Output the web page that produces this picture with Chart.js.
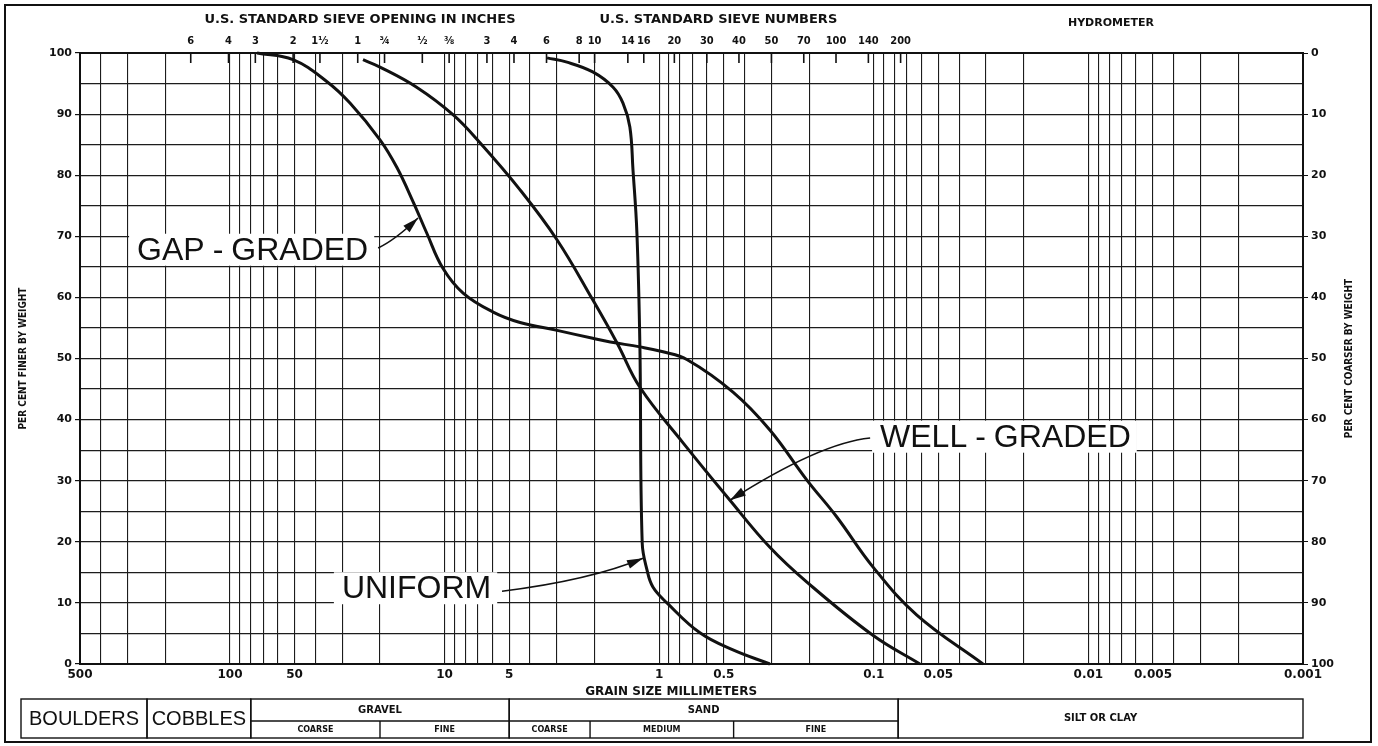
<!DOCTYPE html>
<html>
<head>
<meta charset="utf-8">
<title>Grain size distribution</title>
<script src="https://cdn.jsdelivr.net/npm/chart.js@4.4.1/dist/chart.umd.min.js"></script>
<style>
  html, body { margin: 0; padding: 0; background: #fff; }
  canvas { display: block; }
</style>
</head>
<body>
<canvas id="chart" width="1378" height="746"></canvas>
<script>
// grain size in mm against per cent finer by weight
const gapSizes = [74.8, 50.9, 35.3, 27.6, 20.0, 16.7, 14.0, 12.1, 10.2, 8.2, 5.94, 4.45, 2.99, 2.04, 1.69, 1.23, 0.96, 0.74, 0.453, 0.305, 0.205, 0.149, 0.101, 0.063, 0.031]
const gapFiner = [100, 98.9, 95.3, 91.8, 85.8, 81.3, 75.6, 70.5, 64.8, 60.7, 57.6, 55.9, 54.6, 53.3, 52.7, 51.9, 51.1, 49.8, 44.5, 38.3, 30.1, 24.1, 15.9, 8.0, 0]

const wellSizes = [24.0, 20.0, 13.5, 9.14, 6.84, 4.45, 2.99, 2.04, 1.57, 1.23, 0.774, 0.468, 0.305, 0.205, 0.101, 0.061]
const wellFiner = [98.9, 97.7, 94.4, 89.9, 85.3, 77.6, 69.4, 59.6, 52.5, 45.3, 36.2, 26.8, 19.1, 13.4, 4.7, 0]

const uniformSizes = [3.33, 2.69, 2.04, 1.64, 1.475, 1.37, 1.325, 1.27, 1.23, 1.20, 1.14, 1.07, 0.92, 0.646, 0.453, 0.305]
const uniformFiner = [99.2, 98.5, 96.9, 94.4, 91.8, 87.9, 80.9, 70.5, 51.9, 19.8, 15.4, 12.6, 10.0, 5.1, 2.3, 0]

// axis marks
const sizeTicks = [500, 100, 50, 10, 5, 1, 0.5, 0.1, 0.05, 0.01, 0.005, 0.001]
const sizeTickLabels = ["500", "100", "50", "10", "5", "1", "0.5", "0.1", "0.05", "0.01", "0.005", "0.001"]
const sieveSizes = [152.4, 101.6, 76.2, 50.8, 38.1, 25.4, 19.05, 12.7, 9.525, 6.35, 4.75, 3.35, 2.36, 2.0, 1.4, 1.18, 0.85, 0.6, 0.425, 0.3, 0.212, 0.15, 0.106, 0.075]
const sieveLabels = ["6", "4", "3", "2", "1½", "1", "¾", "½", "⅜", "3", "4", "6", "8", "10", "14", "16", "20", "30", "40", "50", "70", "100", "140", "200"]
const finerTicks = [0, 10, 20, 30, 40, 50, 60, 70, 80, 90, 100]
const coarserTicks = [0, 10, 20, 30, 40, 50, 60, 70, 80, 90, 100]

// soil classes along the bottom strip (boundaries in mm)
const classBounds = [80, 20, 5, 2.1, 0.45, 0.077]

// log grid: every 1..9 step of each decade between 0.001 and 500 mm
const gridSizes = []
for (let k = -3; k <= 2; k++) {
  for (let n = 1; n <= 9; n++) {
    const v = Number((n * Math.pow(10, k)).toPrecision(6))
    if (v <= 500) gridSizes.push(v)
  }
}

const ink = "#111"
const tickFont = { family: "'DejaVu Sans', sans-serif", weight: "bold", size: 11 }
const same = (a, b) => Math.abs(a - b) / b < 1e-6

const callouts = [
  { text: "GAP-GRADED", at: [271, 67.8], tail: [20.4, 68.1], bend: [17.0, 69.4], tip: [13.3, 73.0] },
  { text: "WELL-GRADED", at: [0.0935, 37.2], tail: [0.104, 37.0], bend: [0.178, 36.2], tip: [0.468, 26.8] },
  { text: "UNIFORM", at: [30.1, 12.4], tail: [5.40, 11.9], bend: [2.10, 13.7], tip: [1.19, 17.3] },
]

const toPoints = (sizes, finer) => sizes.map((d, i) => ({ x: d, y: finer[i] }))

function arrow(ctx, x0, y0, cx, cy, x1, y1) {
  ctx.beginPath()
  ctx.moveTo(x0, y0)
  ctx.quadraticCurveTo(cx, cy, x1, y1)
  ctx.stroke()
  const a = Math.atan2(y1 - cy, x1 - cx)
  ctx.beginPath()
  ctx.moveTo(x1, y1)
  ctx.lineTo(x1 - 16 * Math.cos(a) + 4.5 * Math.sin(a), y1 - 16 * Math.sin(a) - 4.5 * Math.cos(a))
  ctx.lineTo(x1 - 16 * Math.cos(a) - 4.5 * Math.sin(a), y1 - 16 * Math.sin(a) + 4.5 * Math.cos(a))
  ctx.closePath()
  ctx.fill()
}

// lettering with the hyphen set apart, as on the sheet
function letter(ctx, text, x, y, draw) {
  const parts = text.split("-")
  const gap = 8
  let w = 0
  parts.forEach((p, i) => {
    if (i > 0) w += gap * 2 + ctx.measureText("-").width
    w += ctx.measureText(p).width
  })
  if (!draw) return w
  let cx = x
  parts.forEach((p, i) => {
    if (i > 0) {
      cx += gap
      ctx.fillText("-", cx, y)
      cx += ctx.measureText("-").width + gap
    }
    ctx.fillText(p, cx, y)
    cx += ctx.measureText(p).width
  })
  return w
}

const sheetPlugin = {
  id: "sheet",
  beforeDatasetsDraw(chart) {
    const { ctx, scales } = chart
    ctx.save()
    ctx.font = "32px 'Liberation Sans', Arial, sans-serif"
    ctx.textBaseline = "middle"
    ctx.textAlign = "left"
    callouts.forEach((c) => {
      const px = scales.x.getPixelForValue(c.at[0])
      const py = scales.y.getPixelForValue(c.at[1])
      const w = letter(ctx, c.text, px, py, false)
      ctx.fillStyle = "#fff"
      ctx.fillRect(px - 8, py - 16, w + 14, 32)
      ctx.fillStyle = ink
      letter(ctx, c.text, px, py + 1, true)
    })
    ctx.restore()
  },
  afterDatasetsDraw(chart) {
    const { ctx, scales } = chart
    const px = (v) => scales.x.getPixelForValue(v)
    const py = (v) => scales.y.getPixelForValue(v)
    ctx.save()
    ctx.strokeStyle = ink
    ctx.fillStyle = ink
    ctx.lineWidth = 1.6
    callouts.forEach((c) => {
      arrow(ctx, px(c.tail[0]), py(c.tail[1]), px(c.bend[0]), py(c.bend[1]), px(c.tip[0]), py(c.tip[1]))
    })
    ctx.restore()
  },
  afterDraw(chart) {
    const { ctx, chartArea: area, scales } = chart
    const x = scales.x, x2 = scales.x2
    ctx.save()
    ctx.strokeStyle = ink
    ctx.fillStyle = ink

    // sieve marks hanging from the top edge
    ctx.lineWidth = 1.6
    sieveSizes.forEach((v) => {
      const p = x2.getPixelForValue(v)
      ctx.beginPath()
      ctx.moveTo(p, area.top)
      ctx.lineTo(p, area.top + 10)
      ctx.stroke()
    })

    // headings
    ctx.textAlign = "center"
    ctx.textBaseline = "middle"
    ctx.font = "bold 13px 'DejaVu Sans', sans-serif"
    ctx.fillText("U.S. STANDARD SIEVE OPENING IN INCHES", x2.getPixelForValue(24.8), 20)
    ctx.fillText("U.S. STANDARD SIEVE NUMBERS", x2.getPixelForValue(0.53), 20)
    ctx.font = "bold 11px 'DejaVu Sans', sans-serif"
    ctx.fillText("HYDROMETER", x2.getPixelForValue(0.00785), 23)
    ctx.font = "bold 12px 'DejaVu Sans', sans-serif"
    ctx.fillText("GRAIN SIZE MILLIMETERS", x.getPixelForValue(0.88), 692)

    const midY = (area.top + area.bottom) / 2
    ctx.font = "bold 10px 'DejaVu Sans Condensed', 'DejaVu Sans', sans-serif"
    ctx.translate(23, midY)
    ctx.rotate(-Math.PI / 2)
    ctx.fillText("PER CENT FINER BY WEIGHT", 0, 0)
    ctx.setTransform(1, 0, 0, 1, 0, 0)
    ctx.translate(1349, midY)
    ctx.rotate(-Math.PI / 2)
    ctx.fillText("PER CENT COARSER BY WEIGHT", 0, 0)
    ctx.setTransform(1, 0, 0, 1, 0, 0)

    // classification strip
    const top = 699, mid = 721, bottom = 738
    const b = classBounds.map((v) => x.getPixelForValue(v))
    const right = area.right
    ctx.lineWidth = 1.4
    const box = (l, r) => ctx.strokeRect(l, top, r - l, bottom - top)
    const hline = (l, r, yy) => { ctx.beginPath(); ctx.moveTo(l, yy); ctx.lineTo(r, yy); ctx.stroke() }
    const vline = (xx, y0, y1) => { ctx.beginPath(); ctx.moveTo(xx, y0); ctx.lineTo(xx, y1); ctx.stroke() }
    box(21, 147)
    box(147, b[0])
    box(b[0], b[2])
    box(b[2], b[5])
    box(b[5], right)
    hline(b[0], b[5], mid)
    vline(b[1], mid, bottom)
    vline(b[3], mid, bottom)
    vline(b[4], mid, bottom)

    ctx.font = "20px 'Liberation Sans', Arial, sans-serif"
    ctx.fillText("BOULDERS", (21 + 147) / 2, (top + bottom) / 2 + 1)
    ctx.fillText("COBBLES", (147 + b[0]) / 2, (top + bottom) / 2 + 1)
    ctx.font = "bold 10px 'DejaVu Sans', sans-serif"
    ctx.fillText("GRAVEL", (b[0] + b[2]) / 2, (top + mid) / 2)
    ctx.fillText("SAND", (b[2] + b[5]) / 2, (top + mid) / 2)
    ctx.fillText("SILT OR CLAY", (b[5] + right) / 2, (top + bottom) / 2)
    ctx.font = "bold 8px 'DejaVu Sans', sans-serif"
    const low = (mid + bottom) / 2
    ctx.fillText("COARSE", (b[0] + b[1]) / 2, low)
    ctx.fillText("FINE", (b[1] + b[2]) / 2, low)
    ctx.fillText("COARSE", (b[2] + b[3]) / 2, low)
    ctx.fillText("MEDIUM", (b[3] + b[4]) / 2, low)
    ctx.fillText("FINE", (b[4] + b[5]) / 2, low)

    // sheet border
    ctx.lineWidth = 2
    ctx.strokeRect(5, 5, 1366, 737)
    ctx.restore()
  },
}

const curveStyle = {
  showLine: true,
  borderColor: ink,
  borderWidth: 3,
  pointRadius: 0,
  tension: 0.4,
  clip: 4,
}

new Chart(document.getElementById("chart"), {
  type: "scatter",
  data: {
    datasets: [
      { label: "Gap-graded", data: toPoints(gapSizes, gapFiner), ...curveStyle },
      { label: "Well-graded", data: toPoints(wellSizes, wellFiner), ...curveStyle },
      { label: "Uniform", data: toPoints(uniformSizes, uniformFiner), ...curveStyle },
    ],
  },
  options: {
    responsive: false,
    animation: false,
    devicePixelRatio: 1,
    layout: { padding: 0 },
    plugins: {
      legend: { display: false },
      tooltip: { enabled: false },
    },
    scales: {
      x: {
        type: "logarithmic",
        position: "bottom",
        reverse: true,
        min: 0.001,
        max: 500,
        afterBuildTicks: (s) => { s.ticks = gridSizes.map((v) => ({ value: v })) },
        afterFit: (s) => { s.height = 82 },
        ticks: {
          autoSkip: false,
          maxRotation: 0,
          padding: 4,
          color: ink,
          font: { ...tickFont, size: 12 },
          callback: (v) => {
            const i = sizeTicks.findIndex((t) => same(v, t))
            return i >= 0 ? sizeTickLabels[i] : ""
          },
        },
        grid: { color: "#1c1c1c", lineWidth: 1.1, drawTicks: false },
        border: { color: ink, width: 2 },
      },
      x2: {
        type: "logarithmic",
        position: "top",
        reverse: true,
        min: 0.001,
        max: 500,
        afterBuildTicks: (s) => { s.ticks = sieveSizes.map((v) => ({ value: v })) },
        afterFit: (s) => { s.height = 53 },
        ticks: {
          autoSkip: false,
          maxRotation: 0,
          padding: 5,
          color: ink,
          font: { family: "'DejaVu Sans Condensed', 'DejaVu Sans', sans-serif", weight: "bold", size: 11 },
          callback: (v, i) => sieveLabels[i],
        },
        grid: { drawOnChartArea: false, drawTicks: false },
        border: { color: ink, width: 2 },
      },
      y: {
        type: "linear",
        position: "left",
        min: 0,
        max: 100,
        afterFit: (s) => { s.width = 80 },
        ticks: {
          stepSize: 5,
          autoSkip: false,
          padding: 3,
          color: ink,
          font: tickFont,
          callback: (v) => (finerTicks.includes(v) ? String(v) : ""),
        },
        grid: {
          color: "#1c1c1c",
          lineWidth: 1.2,
          tickLength: 5,
          tickColor: (c) => (c.tick && finerTicks.includes(c.tick.value) ? ink : "rgba(0,0,0,0)"),
        },
        border: { color: ink, width: 2 },
      },
      y2: {
        type: "linear",
        position: "right",
        reverse: true,
        min: 0,
        max: 100,
        afterFit: (s) => { s.width = 75 },
        ticks: {
          stepSize: 10,
          padding: 3,
          color: ink,
          font: tickFont,
          callback: (v) => (coarserTicks.includes(v) ? String(v) : ""),
        },
        grid: { drawOnChartArea: false, tickLength: 5, color: ink },
        border: { color: ink, width: 2 },
      },
    },
  },
  plugins: [sheetPlugin],
})
</script>
</body>
</html>
